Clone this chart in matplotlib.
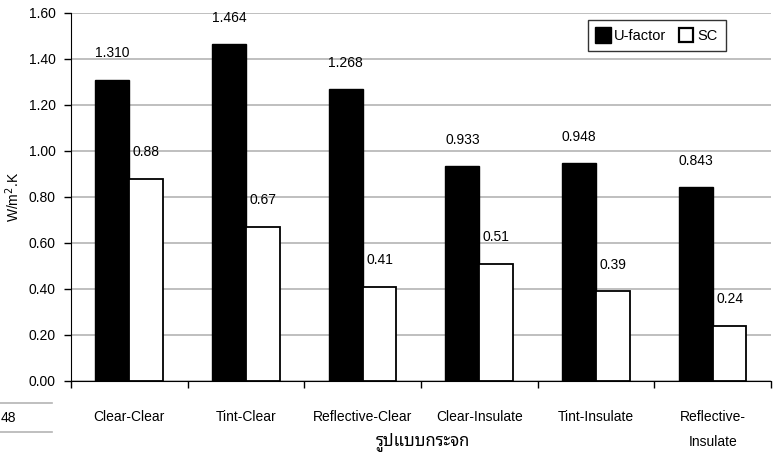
import numpy as np
import matplotlib.pyplot as plt
from matplotlib.lines import Line2D

categories = ['Clear-Clear', 'Tint-Clear', 'Reflective-Clear', 'Clear-Insulate',
              'Tint-Insulate', 'Reflective-\nInsulate']
u_factor = [1.310, 1.464, 1.268, 0.933, 0.948, 0.843]
sc = [0.88, 0.67, 0.41, 0.51, 0.39, 0.24]
u_labels = ['1.310', '1.464', '1.268', '0.933', '0.948', '0.843']
sc_labels = ['0.88', '0.67', '0.41', '0.51', '0.39', '0.24']

plt.rcParams['font.family'] = ['Liberation Sans', 'DejaVu Sans']
plt.rcParams['font.size'] = 10

fig = plt.figure(figsize=(7.79, 4.55), dpi=100)
ax = fig.add_axes([71 / 779, 1 - 381 / 455, 700 / 779, 368 / 455])

x = np.arange(len(categories))
w = 0.29
b1 = ax.bar(x - w / 2, u_factor, w, color='black', edgecolor='black', linewidth=1, zorder=3)
b2 = ax.bar(x + w / 2, sc, w, color='white', edgecolor='black', linewidth=1.3, zorder=3)

for rect, lab in zip(b1, u_labels):
    ax.annotate(lab, (rect.get_x() + rect.get_width() / 2, rect.get_height()),
                xytext=(0, 14), textcoords='offset points', ha='center', va='bottom', fontsize=10)
for rect, lab in zip(b2, sc_labels):
    ax.annotate(lab, (rect.get_x() + rect.get_width() / 2, rect.get_height()),
                xytext=(0, 14), textcoords='offset points', ha='center', va='bottom', fontsize=10)

ax.set_xlim(-0.5, len(categories) - 0.5)
ax.set_ylim(0, 1.6)
ax.set_yticks(np.arange(0, 1.61, 0.2))
ax.set_yticklabels(['%.2f' % v for v in np.arange(0, 1.61, 0.2)])
ax.yaxis.grid(True, color='#b4b4b4', linewidth=1.2, zorder=0)
ax.set_axisbelow(True)

ax.set_xticks(np.arange(-0.5, len(categories), 1.0))
ax.set_xticklabels([])
ax.tick_params(axis='x', direction='out', length=5, width=1)
ax.tick_params(axis='y', direction='out', length=5, width=1, pad=6)
for i, cat in enumerate(categories):
    ax.text(i, -0.125, cat, ha='center', va='top', fontsize=10, linespacing=2.0,
            transform=ax.transData)

ax.spines['top'].set_visible(False)
ax.spines['right'].set_visible(False)

ax.set_ylabel('W/m$^2$.K', fontsize=10, labelpad=5)
fig.text(423 / 779, 1 - 442 / 455, 'รูปแบบกระจก', ha='center', va='center', fontsize=12,
         family=['Noto Sans Thai Looped', 'Loma', 'Liberation Sans', 'DejaVu Sans'])

handles = [Line2D([], [], marker='s', color='none', markerfacecolor='black', markeredgecolor='black',
                  markersize=11),
           Line2D([], [], marker='s', color='none', markerfacecolor='white', markeredgecolor='black',
                  markersize=10, markeredgewidth=1.6)]
leg = ax.legend(handles, ['U-factor', 'SC'], loc='upper right', bbox_to_anchor=(0.936, 0.981), ncol=2,
                frameon=True, fancybox=False, handlelength=0.8, handletextpad=0.35, columnspacing=1.0,
                borderpad=0.6, borderaxespad=0, fontsize=10.5)
leg.get_frame().set_edgecolor('black')
leg.get_frame().set_linewidth(1)

# stray page-fragment at lower left of the original image
fig.add_artist(Line2D([0, 52 / 779], [1 - 403 / 455] * 2, color='#b4b4b4', linewidth=1.2))
fig.add_artist(Line2D([0, 52 / 779], [1 - 432 / 455] * 2, color='#b4b4b4', linewidth=1.2))
fig.text(1 / 779, 1 - 418 / 455, '48', ha='left', va='center', fontsize=10)

fig.savefig('out.png', dpi=100)
